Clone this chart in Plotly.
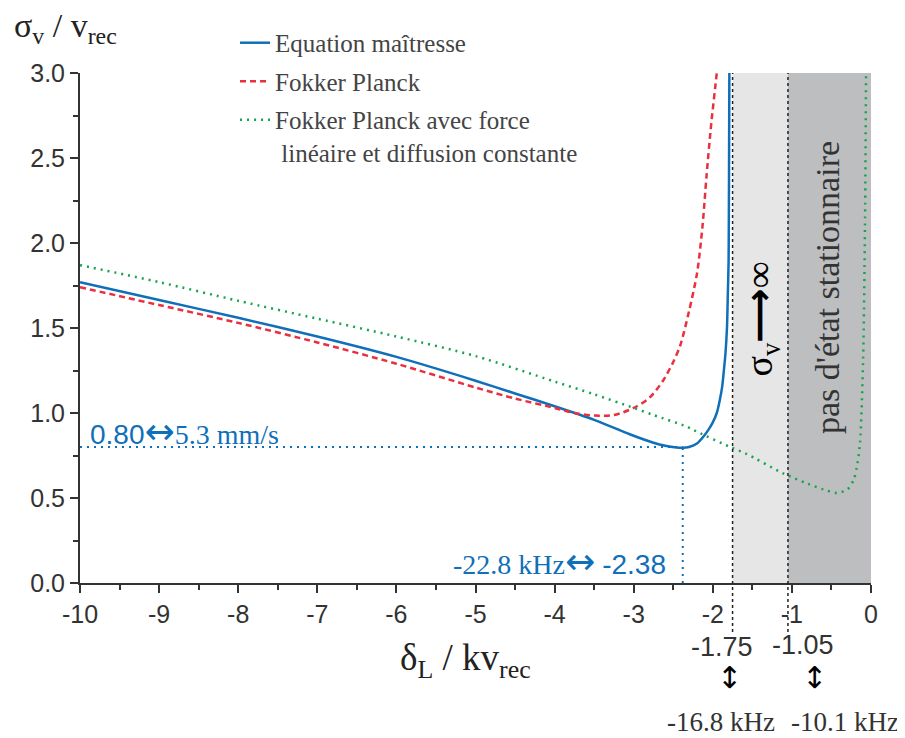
import plotly.graph_objects as go

# Equation maîtresse
eq_x = [-10, -9, -8, -7, -6, -5, -4.5, -4, -3.5, -3.05, -2.75, -2.6, -2.46, -2.38, -2.3, -2.2,
        -2.12, -2.05, -2.0, -1.95, -1.91, -1.88, -1.86, -1.84, -1.82, -1.81, -1.80, -1.795, -1.79]
eq_y = [1.77, 1.665, 1.56, 1.45, 1.33, 1.19, 1.115, 1.04, 0.96, 0.875, 0.825, 0.807, 0.797, 0.795,
        0.80, 0.82, 0.86, 0.905, 0.945, 1.00, 1.08, 1.16, 1.25, 1.35, 1.51, 1.70, 1.90, 2.40, 3.10]

# Fokker Planck
fp_x = [-10, -9, -8, -7, -6, -5, -4.5, -4, -3.75, -3.5, -3.25, -3.0, -2.8, -2.63, -2.5, -2.41,
        -2.3, -2.2, -2.13, -2.08, -2.02, -1.95, -1.93]
fp_y = [1.74, 1.635, 1.53, 1.415, 1.29, 1.15, 1.085, 1.03, 1.00, 0.985, 0.988, 1.03, 1.09, 1.19,
        1.30, 1.40, 1.60, 1.82, 2.10, 2.39, 2.70, 3.00, 3.10]

# Fokker Planck avec force linéaire et diffusion constante
fpl_x = [-10, -9, -8, -7, -6, -5, -4, -3.5, -3.0, -2.75, -2.33, -2.2, -1.78, -1.59, -1.11, -0.81,
         -0.6, -0.43, -0.3, -0.22, -0.18, -0.14, -0.10, -0.076, -0.063, -0.06]
fpl_y = [1.87, 1.77, 1.66, 1.555, 1.45, 1.335, 1.185, 1.11, 1.03, 0.988, 0.92, 0.89, 0.80, 0.763,
         0.645, 0.586, 0.55, 0.53, 0.55, 0.606, 0.68, 0.82, 1.31, 2.10, 2.98, 3.10]

# minimum de l'équation maîtresse
min_x = -2.38
min_y = 0.80

# limites des zones
lim_inf = -1.75
lim_stat = -1.05

x_ticks = [-10, -9, -8, -7, -6, -5, -4, -3, -2, -1, 0]
x_tick_text = ['-10', '-9', '-8', '-7', '-6', '-5', '-4', '-3', '-2', '-1', '0']
y_ticks = [0, 0.5, 1.0, 1.5, 2.0, 2.5, 3.0]
y_tick_text = ['0.0', '0.5', '1.0', '1.5', '2.0', '2.5', '3.0']

BLUE = '#0f6fb9'
RED = '#e8303f'
GREEN = '#17a34f'
GREY = '#333333'
SERIF = 'Liberation Serif'
SANS = 'Liberation Sans'
ARROW = '<span style="font-family:DejaVu Sans;font-size:36px">↔</span>'

fig = go.Figure()

fig.add_trace(go.Scatter(x=eq_x, y=eq_y, mode='lines', name='Equation maîtresse',
                         line=dict(color=BLUE, width=2.5, shape='spline', smoothing=0.6),
                         legendgroup='a'))
fig.add_trace(go.Scatter(x=fp_x, y=fp_y, mode='lines', name='Fokker Planck',
                         line=dict(color=RED, width=2.5, dash='6px,4px', shape='spline', smoothing=0.8),
                         legendgroup='b'))
fig.add_trace(go.Scatter(x=fpl_x, y=fpl_y, mode='lines',
                         name='Fokker Planck avec force<br> linéaire et diffusion constante',
                         line=dict(color=GREEN, width=2.5, dash='2px,5px', shape='spline', smoothing=0.8),
                         legendgroup='c'))

# pointillés bleus vers le minimum
fig.add_trace(go.Scatter(x=[-10, min_x], y=[min_y, min_y], mode='lines', showlegend=False,
                         line=dict(color=BLUE, width=2, dash='2px,5px')))
fig.add_trace(go.Scatter(x=[min_x, min_x], y=[0, min_y], mode='lines', showlegend=False,
                         line=dict(color=BLUE, width=2, dash='2px,5px')))

# zones grises
fig.add_vrect(x0=lim_inf, x1=lim_stat, fillcolor='#e6e6e6', line_width=0, layer='below')
fig.add_vrect(x0=lim_stat, x1=0, fillcolor='#bdbec0', line_width=0, layer='below')

for xv in (lim_inf, lim_stat):
    fig.add_shape(type='line', xref='x', yref='paper', x0=xv, x1=xv, y0=-0.096, y1=1,
                  line=dict(color='#222', width=1.5, dash='dot'))

fig.add_annotation(x=-1.39, y=1.55, textangle=-90, showarrow=False,
                   text='σ<sub>v</sub><span style="font-family:DejaVu Sans;font-weight:bold">⟶</span>∞',
                   font=dict(family=SERIF, size=38, color='black'))
fig.add_annotation(x=-0.556, y=1.735, text="pas d'état stationnaire", textangle=-90, showarrow=False,
                   font=dict(family=SERIF, size=34, color=GREY))

fig.add_annotation(x=-9.9, y=0.894, xanchor='left', yanchor='middle', showarrow=False,
                   text='<span style="font-family:Liberation Sans">0.80</span>' + ARROW + '5.3 mm/s',
                   font=dict(family=SERIF, size=28, color=BLUE))
fig.add_annotation(x=-2.566, y=0.124, xanchor='right', yanchor='middle', showarrow=False,
                   text='-22.8 kHz' + ARROW + ' <span style="font-family:Liberation Sans">-2.38</span>',
                   font=dict(family=SERIF, size=28, color=BLUE))

# valeurs sous l'axe
fig.add_annotation(x=lim_inf, xshift=-11, y=-0.1255, yref='paper', yanchor='middle', text='-1.75',
                   showarrow=False, font=dict(family=SANS, size=27, color=GREY))
fig.add_annotation(x=lim_stat, xshift=15, y=-0.122, yref='paper', yanchor='middle', text='-1.05',
                   showarrow=False, font=dict(family=SANS, size=27, color=GREY))
fig.add_annotation(x=lim_inf, xshift=-3, y=-0.186, yref='paper', yanchor='middle', text='↕',
                   showarrow=False, font=dict(family='DejaVu Sans', size=30, color='black'))
fig.add_annotation(x=lim_stat, xshift=27, y=-0.186, yref='paper', yanchor='middle', text='↕',
                   showarrow=False, font=dict(family='DejaVu Sans', size=30, color='black'))
fig.add_annotation(x=lim_inf, xshift=-12, y=-0.2725, yref='paper', yanchor='middle', text='-16.8 kHz',
                   showarrow=False, font=dict(family=SERIF, size=27, color=GREY))
fig.add_annotation(x=lim_stat, xshift=57, y=-0.2725, yref='paper', yanchor='middle', text='-10.1 kHz',
                   showarrow=False, font=dict(family=SERIF, size=27, color=GREY))

# titres des axes
fig.add_annotation(xref='paper', yref='paper', x=-0.086, y=1.088, xanchor='left', yanchor='middle',
                   showarrow=False, text='σ<sub>v</sub> / v<sub>rec</sub>',
                   font=dict(family=SERIF, size=34, color='#222'))
fig.add_annotation(xref='paper', yref='paper', x=0.487, y=-0.152, xanchor='center', yanchor='middle',
                   showarrow=False, text='δ<sub>L</sub> / kv<sub>rec</sub>',
                   font=dict(family=SERIF, size=37, color='#222'))

fig.update_xaxes(range=[-10, 0], tickvals=x_ticks, ticktext=x_tick_text,
                 showline=True, linecolor='#333', linewidth=2, mirror=False,
                 ticks='outside', ticklen=8, tickwidth=2, tickcolor='#333',
                 minor=dict(dtick=0.5, tick0=-10, ticks='outside', ticklen=5, tickwidth=2, tickcolor='#333'),
                 showgrid=False, zeroline=False,
                 tickfont=dict(family=SANS, size=25, color=GREY))
fig.update_yaxes(range=[0, 3], tickvals=y_ticks, ticktext=y_tick_text,
                 showline=True, linecolor='#333', linewidth=2,
                 ticks='outside', ticklen=8, tickwidth=2, tickcolor='#333',
                 minor=dict(dtick=0.25, tick0=0, ticks='outside', ticklen=5, tickwidth=2, tickcolor='#333'),
                 showgrid=False, zeroline=False,
                 tickfont=dict(family=SANS, size=25, color=GREY))

fig.update_layout(
    width=905, height=738,
    margin=dict(l=72, r=42, t=65, b=163),
    plot_bgcolor='white', paper_bgcolor='white',
    legend=dict(x=0.196, y=1.104, xanchor='left', yanchor='top', bgcolor='rgba(0,0,0,0)',
                font=dict(family=SERIF, size=25, color='#444'), valign='top',
                tracegroupgap=3, traceorder='grouped'),
)

fig.write_html("out.html")
